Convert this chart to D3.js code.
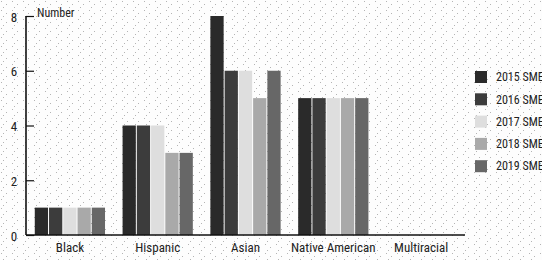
<!DOCTYPE html>
<html>
<head>
<meta charset="utf-8">
<script src="https://cdn.jsdelivr.net/npm/d3@7"></script>
<style>
  html, body { margin: 0; padding: 0; background: #fff; }
  svg { display: block; }
</style>
</head>
<body>
<div id="chart"></div>
<script>
// data
const categories = ["Black", "Hispanic", "Asian", "Native American", "Multiracial"];
const seriesNames = ["2015 SMEs", "2016 SMEs", "2017 SMEs", "2018 SMEs", "2019 SMEs"];
const values2015 = [1, 4, 8, 5, 0];
const values2016 = [1, 4, 6, 5, 0];
const values2017 = [1, 4, 6, 5, 0];
const values2018 = [1, 3, 5, 5, 0];
const values2019 = [1, 3, 6, 5, 0];
const yTicks = [0, 2, 4, 6, 8];

const seriesValues = [values2015, values2016, values2017, values2018, values2019];
const colors = ["#2a2a2a", "#3c3c3c", "#dedede", "#a9a9a9", "#676767"];

const W = 542, H = 260;
const font = "'Liberation Sans Narrow', 'Arial Narrow', 'Roboto Condensed', 'Liberation Sans', sans-serif";

const svg = d3.select("#chart").append("svg")
  .attr("width", W).attr("height", H);

// speckled paper background
const defs = svg.append("defs");
const pat = defs.append("pattern")
  .attr("id", "speck").attr("width", 11).attr("height", 9)
  .attr("patternUnits", "userSpaceOnUse");
pat.append("rect").attr("width", 11).attr("height", 9).attr("fill", "#fdfdfd");
[[1, 1], [6, 4], [3, 7]].forEach(([px, py]) =>
  pat.append("rect").attr("x", px).attr("y", py).attr("width", 1).attr("height", 1).attr("fill", "#b4b4b4"));
svg.append("rect").attr("width", W).attr("height", H).attr("fill", "url(#speck)");

// scales
const x0 = d3.scaleBand().domain(categories).range([26, 465])
  .paddingInner(0.2).paddingOuter(0.1);
const x1 = d3.scaleBand().domain(seriesNames).range([0, x0.bandwidth()])
  .paddingInner(0.07);
const y = d3.scaleLinear().domain([0, 8]).range([235, 16]);

// bars
const groups = svg.append("g").selectAll("g")
  .data(categories).join("g")
  .attr("transform", d => `translate(${x0(d)},0)`);

groups.selectAll("rect")
  .data((c, ci) => seriesNames.map((s, si) => ({ s, si, v: seriesValues[si][ci] })))
  .join("rect")
  .attr("x", d => x1(d.s))
  .attr("width", x1.bandwidth())
  .attr("y", d => y(d.v))
  .attr("height", d => y(0) - y(d.v))
  .attr("fill", d => colors[d.si]);

// y axis
const yAxis = svg.append("g")
  .attr("transform", "translate(26,0)")
  .call(d3.axisRight(y).tickValues(yTicks).tickSize(8).tickFormat(d3.format("d")));
yAxis.select(".domain").attr("stroke", "#111").attr("stroke-width", 1.6)
  .attr("d", `M0,${y(8)}V${y(0)}`);
yAxis.selectAll(".tick line").attr("stroke", "#111").attr("stroke-width", 1.2);
yAxis.selectAll(".tick text")
  .attr("x", -12).attr("text-anchor", "middle").attr("dy", "0.4em")
  .style("font-family", font).style("font-size", "13px").attr("fill", "#222");

svg.append("text")
  .attr("x", 37).attr("y", y(8) + 1)
  .style("font-family", font).style("font-size", "12px").attr("fill", "#222")
  .text("Number");

// x axis
const xAxis = svg.append("g")
  .attr("transform", `translate(0,${y(0)})`)
  .call(d3.axisBottom(x0).tickSize(0).tickPadding(7));
xAxis.select(".domain").attr("stroke", "#111").attr("stroke-width", 1.6)
  .attr("d", "M26,0H465");
xAxis.selectAll(".tick text")
  .attr("dy", "0.75em")
  .style("font-family", font).style("font-size", "13px").attr("fill", "#222");

// legend (labels run off the right edge, as in the reference)
const legend = svg.append("g").selectAll("g")
  .data(seriesNames).join("g")
  .attr("transform", (d, i) => `translate(475,${71 + i * 22.3})`);
legend.append("rect").attr("width", 12).attr("height", 12)
  .attr("fill", (d, i) => colors[i]);
legend.append("text")
  .attr("x", 21).attr("y", 6).attr("dy", "0.35em")
  .style("font-family", font).style("font-size", "12px").attr("fill", "#222")
  .text(d => d);
</script>
</body>
</html>
